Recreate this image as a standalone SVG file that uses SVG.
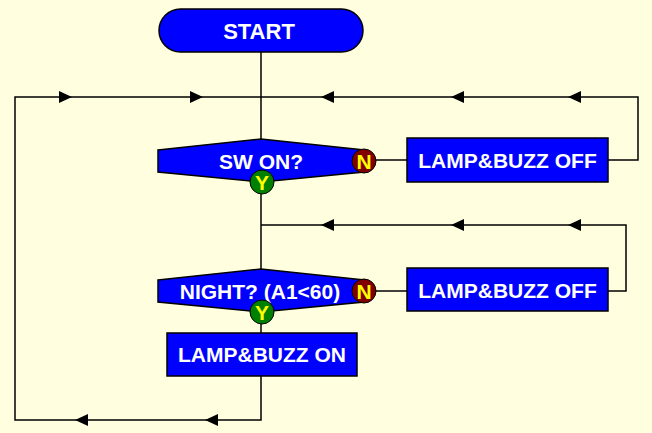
<svg xmlns="http://www.w3.org/2000/svg" width="652" height="433" viewBox="0 0 652 433">
<defs>
<style>
.bg{fill:#FFFFE0}
.shape{fill:#0000FF;stroke:#000;stroke-width:1.5}
.lbl{font-family:"Liberation Sans",Arial,sans-serif;font-weight:bold;font-size:21px;fill:#fff;text-anchor:middle}
.yn{font-family:"Liberation Sans",Arial,sans-serif;font-weight:bold;font-size:21px;fill:#FFFF00;text-anchor:middle}
.ln{fill:none;stroke:#000;stroke-width:1.5}
.ah{fill:#000}
</style>
<polygon id="al" class="ah" points="0,0 13,-6 13,6"/>
<polygon id="ar" class="ah" points="0,0 -13,-6 -13,6"/>
</defs>
<rect class="bg" x="0" y="0" width="652" height="433"/>
<g id="connectors">
<path class="ln" d="M261,52 V139"/>
<path class="ln" d="M261,194 V269"/>
<path class="ln" d="M261,324 V333"/>
<path class="ln" d="M261,376 V420 H15 V97 H638 V160 H608"/>
<path class="ln" d="M376,160 H407"/>
<path class="ln" d="M376,291 H407"/>
<path class="ln" d="M608,291 H626 V225 H261"/>
<use href="#ar" x="72" y="97"/>
<use href="#ar" x="203" y="97"/>
<use href="#al" x="321" y="97"/>
<use href="#al" x="451" y="97"/>
<use href="#al" x="568" y="97"/>
<use href="#al" x="321" y="225"/>
<use href="#al" x="451" y="225"/>
<use href="#al" x="568" y="225"/>
<use href="#al" x="75" y="420"/>
<use href="#al" x="205" y="420"/>
</g>
<g id="start">
<rect class="shape" x="159" y="9" width="204" height="43" rx="21.5" ry="21.5"/>
<text class="lbl" x="259" y="38.5" style="font-size:22px">START</text>
</g>
<g id="sw_on">
<polygon class="shape" points="158,150 261,139 364,150 364,172 261,182 158,172"/>
<text class="lbl" x="261" y="168.5">SW ON?</text>
<circle cx="364" cy="161" r="12" fill="#800000" stroke="#000" stroke-width="1"/>
<text class="yn" x="364" y="168.5">N</text>
<circle cx="262" cy="182" r="12" fill="#008000" stroke="#000" stroke-width="1"/>
<text class="yn" x="262" y="189.5">Y</text>
</g>
<g id="off1">
<rect class="shape" x="407" y="138" width="201" height="44"/>
<text class="lbl" x="507.5" y="167.5">LAMP&amp;BUZZ OFF</text>
</g>
<g id="night">
<polygon class="shape" points="158,280 261,269 364,280 364,302 261,312 158,302"/>
<text class="lbl" x="260" y="298.5">NIGHT? (A1&lt;60)</text>
<circle cx="364" cy="291" r="12" fill="#800000" stroke="#000" stroke-width="1"/>
<text class="yn" x="364" y="298.5">N</text>
<circle cx="262" cy="312" r="12" fill="#008000" stroke="#000" stroke-width="1"/>
<text class="yn" x="262" y="319.5">Y</text>
</g>
<g id="off2">
<rect class="shape" x="407" y="268" width="201" height="43"/>
<text class="lbl" x="507.5" y="297.5">LAMP&amp;BUZZ OFF</text>
</g>
<g id="on">
<rect class="shape" x="167" y="333" width="190" height="43"/>
<text class="lbl" x="262" y="362">LAMP&amp;BUZZ ON</text>
</g>
</svg>
